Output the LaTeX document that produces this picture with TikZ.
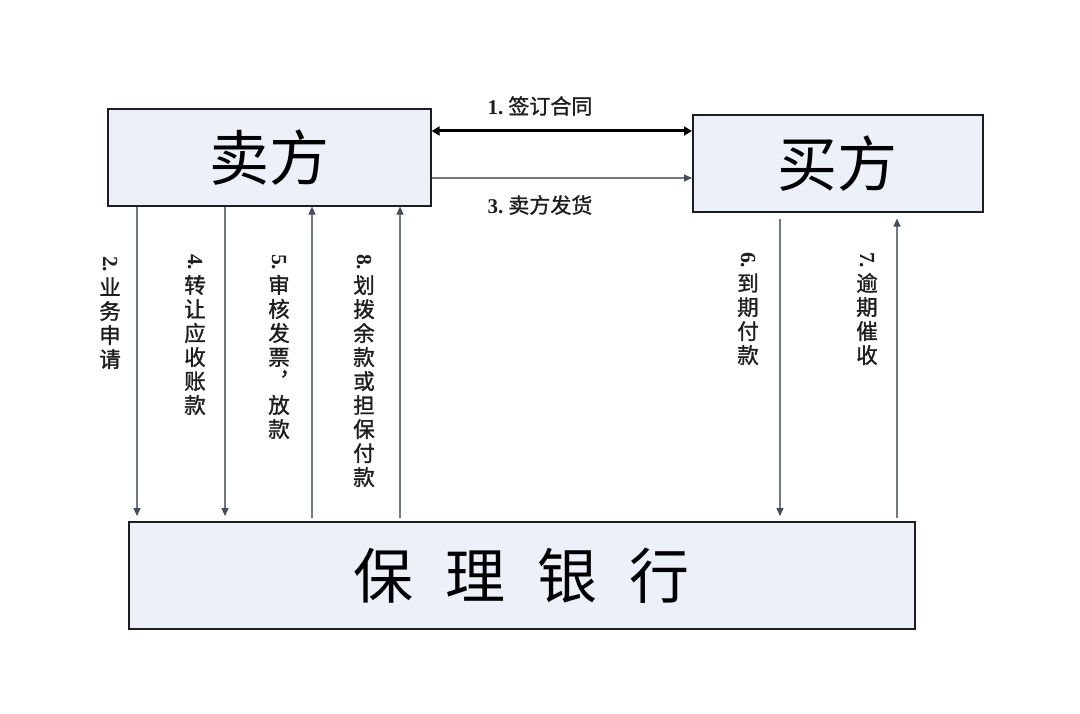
\documentclass[tikz,border=0pt]{standalone}
\usepackage{fontspec}
\newfontfamily\cjk{Noto Sans CJK SC}
\newfontfamily\cjkl[FakeBold=1.3]{Noto Sans CJK SC}
\newfontfamily\numf{Liberation Serif}
\usetikzlibrary{arrows.meta,calc}
\definecolor{boxfill}{RGB}{236,240,249}
\definecolor{boxline}{RGB}{30,30,30}
\definecolor{linegray}{RGB}{112,120,130}
\definecolor{headgray}{RGB}{66,78,92}
\definecolor{labtext}{RGB}{30,30,30}
\begin{document}
\begin{tikzpicture}[x=1pt,y=-1pt,
  box/.style={draw=boxline, line width=1.6pt, fill=boxfill, inner sep=0pt, anchor=north west},
  vlab/.style={anchor=north, inner sep=0pt, align=center, text=labtext, font=\cjkl\fontsize{21.5}{24}\selectfont},
  hlab/.style={inner sep=0pt, text=labtext, font=\cjkl\fontsize{21}{24}\selectfont},
  arr/.style={draw=linegray, line width=1.3pt, -{Triangle[length=8pt,width=7pt,color=headgray]}},
  bigarr/.style={draw=black, line width=3pt, {Triangle[length=8pt,width=9pt]}-{Triangle[length=8pt,width=9pt]}}
]
\fill[white] (0,0) rectangle (1080,714);
\useasboundingbox (0,0) rectangle (1080,714);

\node[box, minimum width=323pt, minimum height=97pt, font=\cjk\fontsize{60}{62}\selectfont] (seller) at (107,108) {卖方};
\node[box, minimum width=290pt, minimum height=97pt, font=\cjk\fontsize{60}{62}\selectfont] (buyer) at (692,114) {买方};
\node[box, minimum width=786pt, minimum height=107pt, font=\cjk\fontsize{60}{62}\selectfont] (bank) at (128,521) {保\hspace{32pt}理\hspace{32pt}银\hspace{32pt}行};

% horizontal connectors
\draw[bigarr] ([yshift=-23pt]seller.north east) -- ([yshift=-17pt]buyer.north west);
\draw[arr] ([yshift=-70pt]seller.north east) -- ([yshift=-64pt]buyer.north west);
\node[hlab] (l1) at (540,106) {{\numf\bfseries 1.}\hspace{5pt}签订合同};
\node[hlab] (l3) at (540,205) {{\numf\bfseries 3.}\hspace{5pt}卖方发货};

% seller <-> bank
\draw[arr] ([xshift=30pt]seller.south west) -- ([xshift=9pt,yshift=5pt]bank.north west);
\draw[arr] ([xshift=118pt]seller.south west) -- ([xshift=97pt,yshift=5pt]bank.north west);
\draw[arr] ([xshift=184pt,yshift=3pt]bank.north west) -- ([xshift=205pt]seller.south west);
\draw[arr] ([xshift=272pt,yshift=3pt]bank.north west) -- ([xshift=293pt]seller.south west);

% buyer <-> bank
\draw[arr] ([xshift=88pt,yshift=-6pt]buyer.south west) -- ([xshift=652pt,yshift=5pt]bank.north west);
\draw[arr] ([xshift=769pt,yshift=3pt]bank.north west) -- ([xshift=205pt,yshift=-6pt]buyer.south west);

% vertical labels
\node[vlab] (l2) at (110,256) {{\numf\bfseries\rotatebox[origin=c]{-90}{2.}}\\业\\务\\申\\请};
\node[vlab] (l4) at (195,254) {{\numf\bfseries\rotatebox[origin=c]{-90}{4.}}\\转\\让\\应\\收\\账\\款};
\node[vlab] (l5) at (279,254) {{\numf\bfseries\rotatebox[origin=c]{-90}{5.}}\\审\\核\\发\\票\\︐\\放\\款};
\node[vlab] (l8) at (364,254) {{\numf\bfseries\rotatebox[origin=c]{-90}{8.}}\\划\\拨\\余\\款\\或\\担\\保\\付\\款};
\node[vlab] (l6) at (748,252) {{\numf\bfseries\rotatebox[origin=c]{-90}{6.}}\\到\\期\\付\\款};
\node[vlab] (l7) at (867,252) {{\numf\bfseries\rotatebox[origin=c]{-90}{7.}}\\逾\\期\\催\\收};
\end{tikzpicture}
\end{document}
